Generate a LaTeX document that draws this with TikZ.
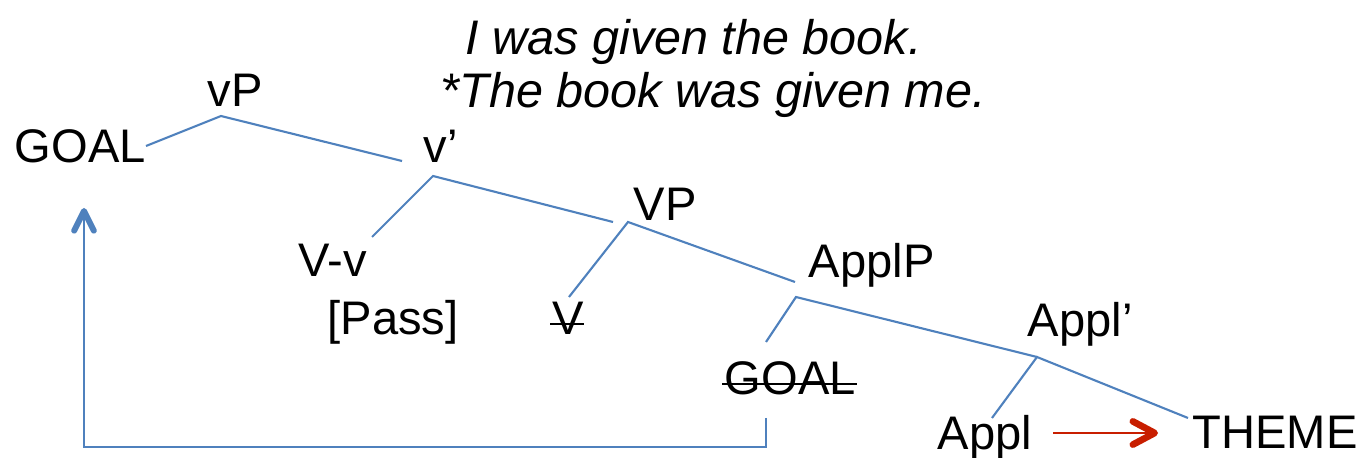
\documentclass[tikz,border=0pt]{standalone}
\usepackage{fontspec}
\setmainfont{Liberation Sans}
\usetikzlibrary{arrows.meta, positioning, calc}
\definecolor{treeblue}{RGB}{79, 129, 189}
\definecolor{agreered}{RGB}{200, 30, 0}
\tikzset{
  lbl/.style={inner sep=0pt, anchor=base west, font=\fontsize{13.4}{16}\selectfont},
  gloss/.style={inner sep=0pt, anchor=base west, font=\fontsize{13.8}{16}\selectfont\itshape},
  branch/.style={treeblue, line width=0.6pt},
  strike/.style={black, line width=0.8pt},
  movearrow/.style={treeblue, line width=0.7pt,
                    -{Straight Barb[length=5.6pt, width=5.6pt, line width=1.7pt, round]}},
  agreearrow/.style={agreered, line width=0.7pt,
                     -{Straight Barb[length=6.2pt, width=6.6pt, line width=1.9pt, round]}},
}

\begin{document}
\begin{tikzpicture}[x=0.01cm, y=-0.01cm]
        \useasboundingbox (0,0) rectangle (1363,458);
        % examples
        \node[gloss] (ex1) at (465, 55) {I was given the book.};
        \node[gloss] (ex2) at (440, 108) {*The book was given me.};

        % tree labels
        \node[lbl] (vP) at (207, 107) {vP};
        \node[lbl] (goalA) at (14, 163) {GOAL};
        \node[lbl] (vbar) at (423, 163) {v’};
        \node[lbl] (Vv) at (298, 277) {V-v};
        \node[lbl] (pass) at (327, 335) {[Pass]};
        \node[lbl] (VP) at (633, 221) {VP};
        \node[lbl] (Vlow) at (552, 335) {V};
        \node[lbl] (ApplP) at (808, 278) {ApplP};
        \node[lbl] (goalB) at (724, 395) {GOAL};
        \node[lbl] (Applbar) at (1027, 337) {Appl’};
        \node[lbl] (Appl) at (937, 450) {Appl};
        \node[lbl] (theme) at (1192, 449) {THEME};

        % branches
        \draw[branch] ([shift={(132,-17)}]goalA.base west) -- ([shift={(14,9)}]vP.base west)
             -- ([shift={(-21,-2)}]vbar.base west);
        \draw[branch] ([shift={(74,-40)}]Vv.base west) -- ([shift={(10,13)}]vbar.base west)
             -- ([shift={(-20,1)}]VP.base west);
        \draw[branch] ([shift={(17,-38)}]Vlow.base west) -- ([shift={(-5,1)}]VP.base west)
             -- ([shift={(-13,4)}]ApplP.base west);
        \draw[branch] ([shift={(42,-53)}]goalB.base west) -- ([shift={(-12,19)}]ApplP.base west)
             -- ([shift={(10,20)}]Applbar.base west);
        \draw[branch] ([shift={(55,-32)}]Appl.base west) -- ([shift={(10,20)}]Applbar.base west)
             -- ([shift={(-4,-31)}]theme.base west);

        % deleted copies
        \draw[strike] ([shift={(-2,-11)}]Vlow.base west) -- ([shift={(32,-11)}]Vlow.base west);
        \draw[strike] ([shift={(-2,-11)}]goalB.base west) -- ([shift={(133,-11)}]goalB.base west);

        % movement and case
        \draw[movearrow] ([shift={(42,23)}]goalB.base west) -- ++(0,29)
             -| ([shift={(70,45)}]goalA.base west);
        \draw[agreearrow] ([shift={(116,-17)}]Appl.base west) -- ([shift={(-34,-16)}]theme.base west);
      \end{tikzpicture}
\end{document}
